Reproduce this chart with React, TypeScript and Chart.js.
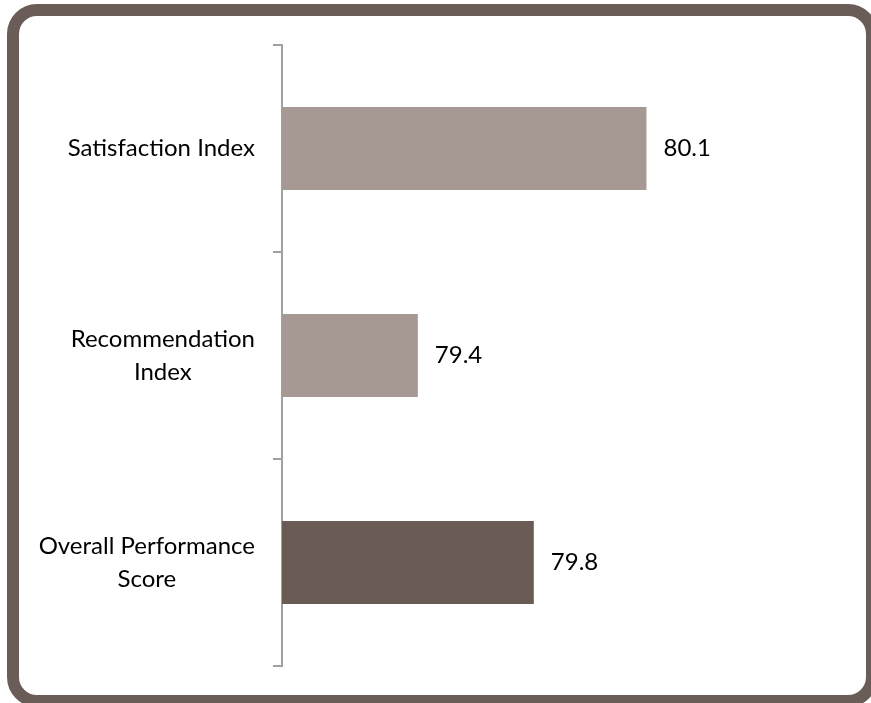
import React, { useEffect, useRef } from "react";
import { Chart, registerables } from "chart.js";

Chart.register(...registerables);

const categories: string[][] = [
  ["Satisfaction Index"],
  ["Recommendation", "Index"],
  ["Overall Performance", "Score"],
];
const values: number[] = [80.1, 79.41, 79.76];
const barColors: string[] = ["#a69994", "#a69994", "#6a5b55"];
const xMin = 79;
const xMax = 80.5;

const FONT = "24px Lato, 'Open Sans', sans-serif";

const labelPlugin = {
  id: "customLabels",
  afterDraw(chart: any) {
    const ctx = chart.ctx;
    const yScale = chart.scales.y;
    ctx.save();
    ctx.font = FONT;
    ctx.fillStyle = "#000000";
    ctx.textBaseline = "middle";
    // category labels
    categories.forEach((lines, i) => {
      const cy = yScale.getPixelForValue(i);
      const widths = lines.map((l) => ctx.measureText(l).width);
      const maxW = Math.max(...widths);
      const right = chart.chartArea.left - 27;
      const cx = right - maxW / 2;
      const lh = 33;
      const startY = cy - ((lines.length - 1) * lh) / 2;
      ctx.textAlign = "center";
      lines.forEach((l, j) => ctx.fillText(l, cx, startY + j * lh));
    });
    // value labels
    const meta = chart.getDatasetMeta(0);
    ctx.textAlign = "left";
    meta.data.forEach((bar: any, i: number) => {
      ctx.fillText(values[i].toFixed(1), bar.x + 17, bar.y);
    });
    ctx.restore();
  },
};

export default function App() {
  const ref = useRef<HTMLCanvasElement>(null);
  useEffect(() => {
    if (!ref.current) return;
    const chart = new Chart(ref.current, {
      type: "bar",
      data: {
        labels: categories.map((c) => c.join(" ")),
        datasets: [
          {
            data: values,
            backgroundColor: barColors,
            borderWidth: 0,
            barPercentage: 0.4,
            categoryPercentage: 1,
          },
        ],
      },
      options: {
        indexAxis: "y",
        animation: false,
        responsive: true,
        maintainAspectRatio: false,
        layout: { padding: { left: 273, right: 92, top: 45, bottom: 37 } },
        plugins: { legend: { display: false }, tooltip: { enabled: false } },
        scales: {
          x: { display: false, min: xMin, max: xMax },
          y: {
            offset: true,
            ticks: { display: false },
            grid: {
              offset: true,
              drawOnChartArea: false,
              drawTicks: true,
              tickLength: 9,
              color: "#a0a0a0",
              lineWidth: 2,
            },
            border: { display: true, color: "#a0a0a0", width: 2 },
          },
        },
      },
      plugins: [labelPlugin],
    });
    return () => chart.destroy();
  }, []);
  return (
    <div
      style={{
        position: "absolute",
        left: 0,
        top: 0,
        width: 871,
        height: 703,
        overflow: "hidden",
        background: "#ffffff",
      }}
    >
      <div
        style={{
          position: "absolute",
          left: 7,
          top: 4,
          width: 871,
          height: 703,
          boxSizing: "border-box",
          border: "12px solid #6a5c56",
          borderRadius: 30,
        }}
      />
      <div style={{ position: "absolute", left: 0, top: 0, width: 871, height: 703 }}>
        <canvas ref={ref} />
      </div>
    </div>
  );
}
